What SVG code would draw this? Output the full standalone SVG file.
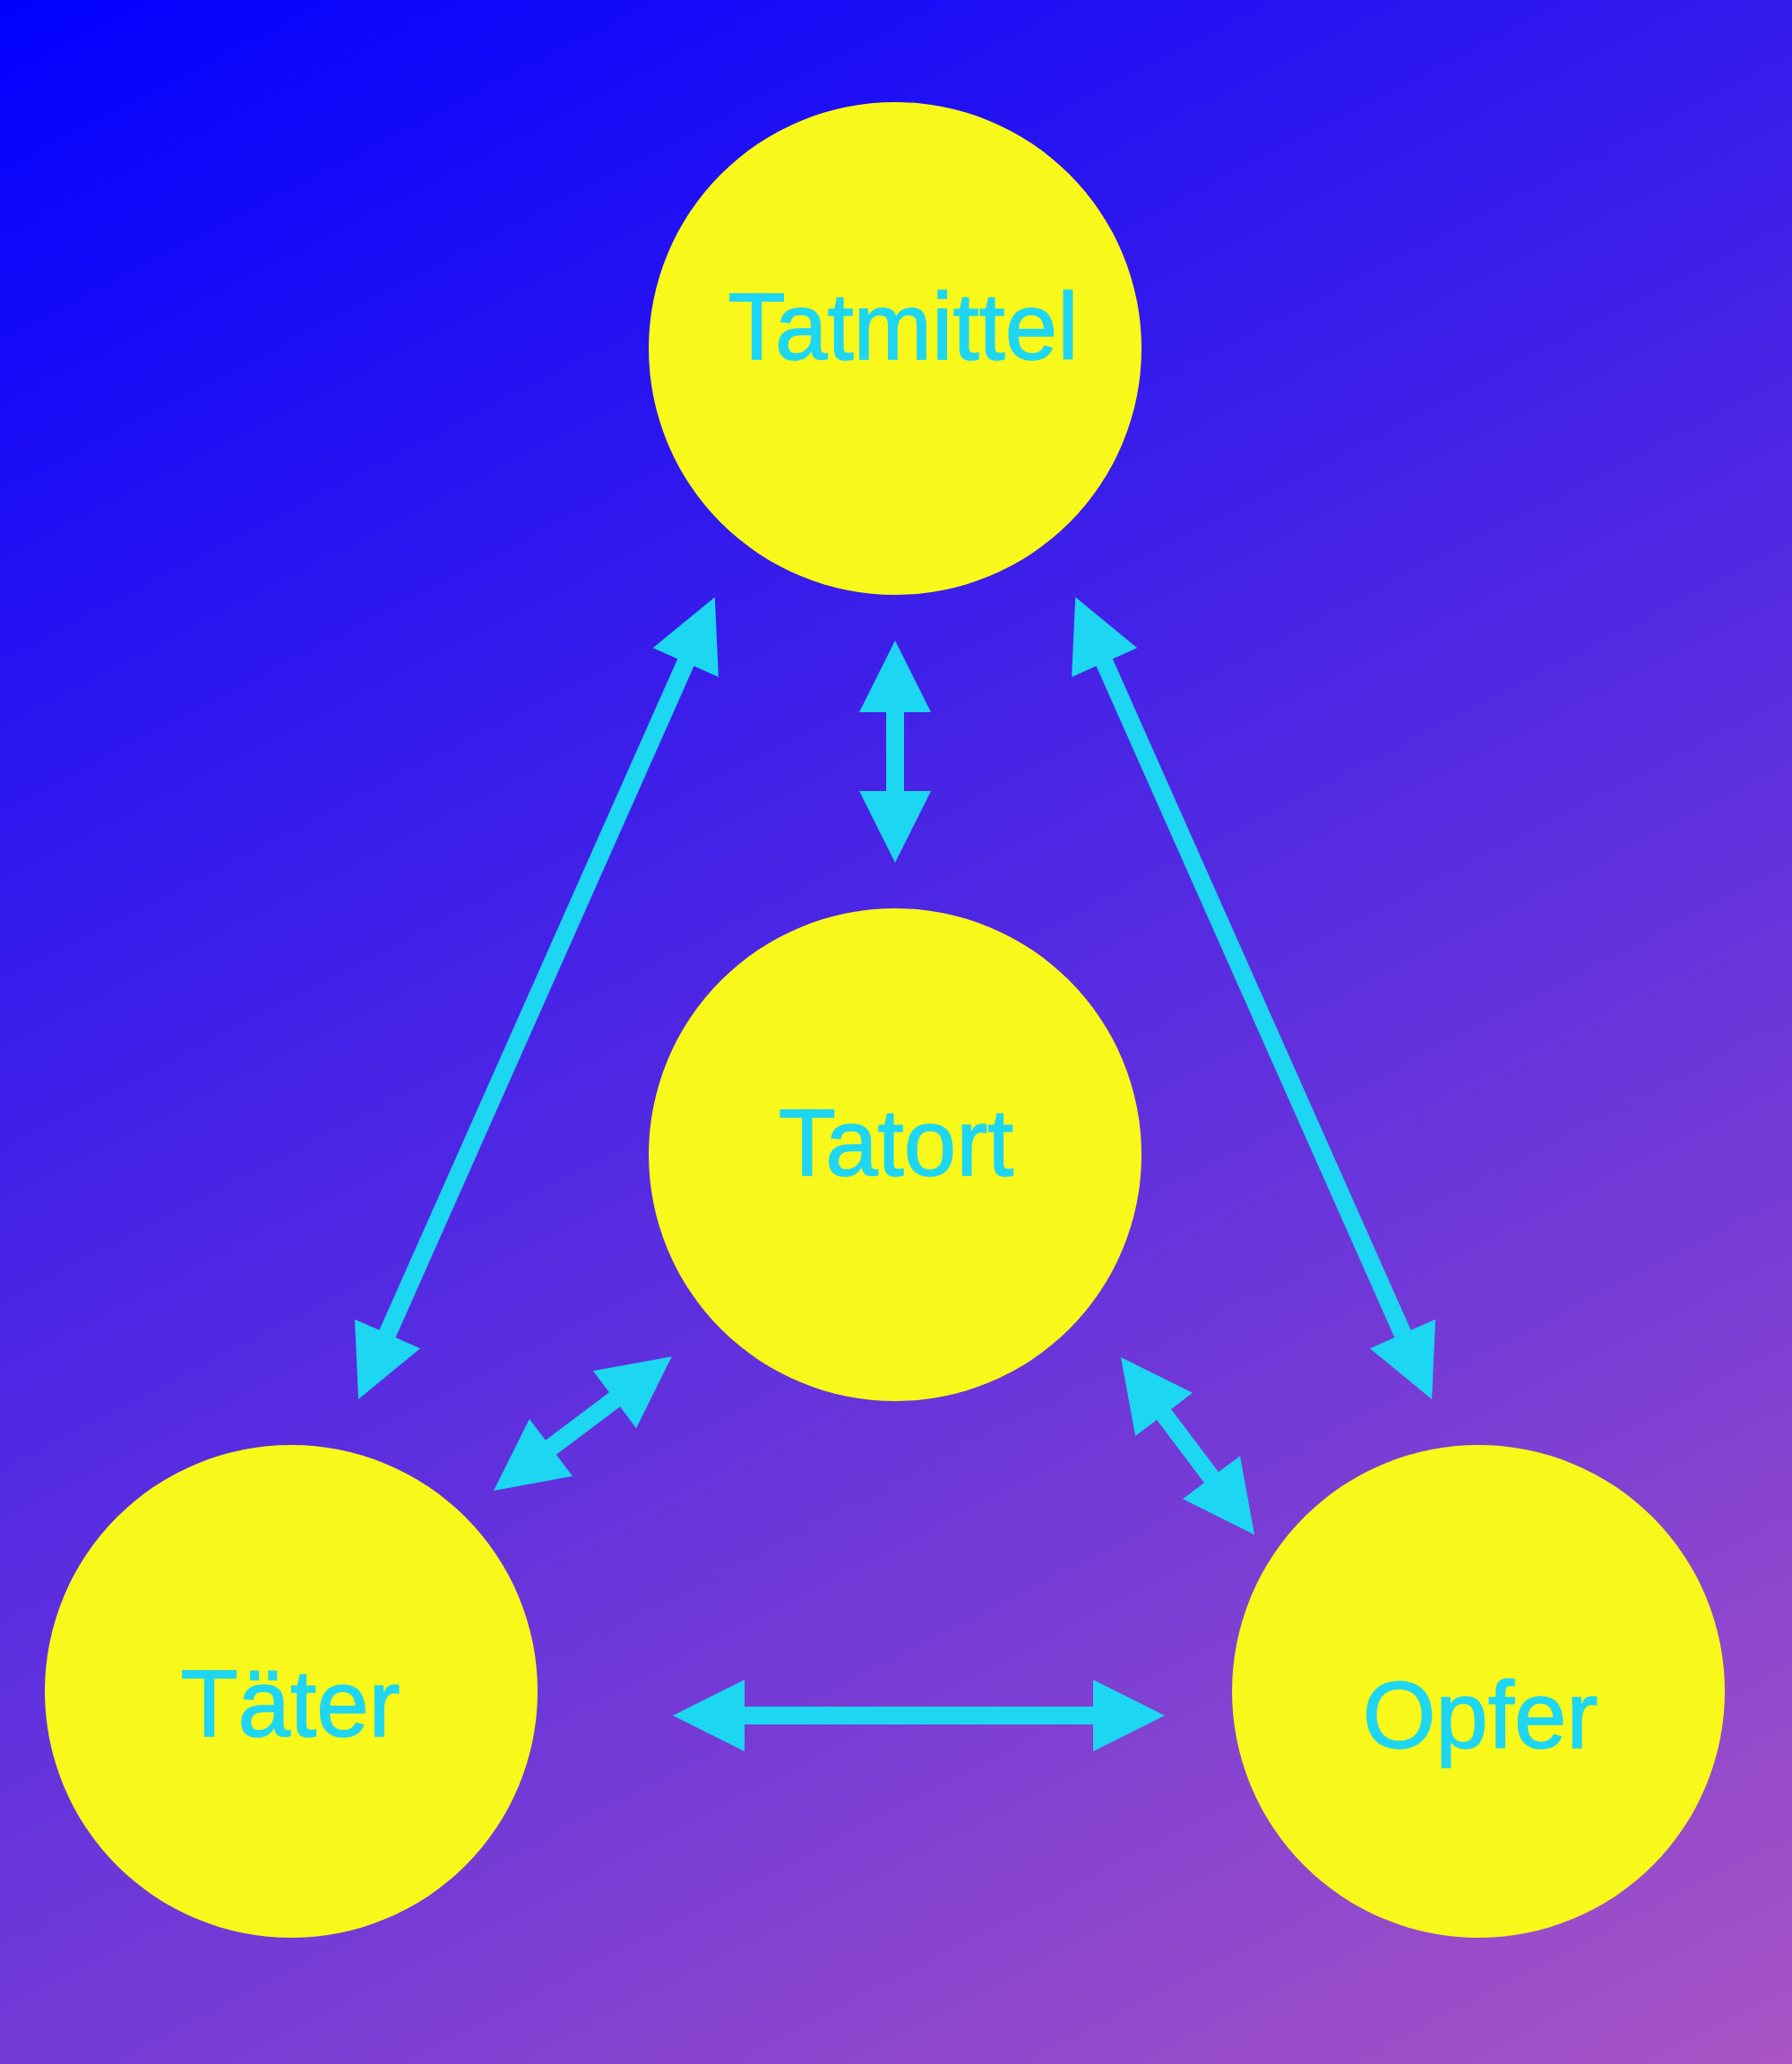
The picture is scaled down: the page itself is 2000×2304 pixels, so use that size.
<svg xmlns="http://www.w3.org/2000/svg" width="2000" height="2304" viewBox="0 0 2000 2304">
<defs>
<linearGradient id="bg" gradientUnits="userSpaceOnUse" x1="0" y1="0" x2="1364" y2="2634">
<stop offset="0" stop-color="#0000FF"/>
<stop offset="1" stop-color="#A854C4"/>
</linearGradient>
</defs>
<style>
.node{fill:#F8F81A;}
.lbl{font-family:"Liberation Sans",Arial,sans-serif;font-size:105px;fill:#1ED6F2;stroke:#1ED6F2;stroke-width:1.5;text-anchor:middle;}
.arr{fill:#1CD6F2;}
</style>
<rect x="0" y="0" width="2000" height="2304" fill="url(#bg)"/>
<g id="connectors">
<polygon class="arr" transform="translate(999,715) rotate(90)" points="0,0 80,-40 80,-10 168,-10 168,-40 248,0 168,40 168,10 80,10 80,40"/>
<polygon class="arr" transform="translate(751,1915)" points="0,0 80,-40 80,-10 469,-10 469,-40 549,0 469,40 469,10 80,10 80,40"/>
<polygon class="arr" transform="translate(400,1562) rotate(-66.05)" points="0,0 80,-40 80,-10 900,-10 900,-40 980,0 900,40 900,10 80,10 80,40"/>
<polygon class="arr" transform="translate(1598,1562) rotate(-113.95)" points="0,0 80,-40 80,-10 900,-10 900,-40 980,0 900,40 900,10 80,10 80,40"/>
<polygon class="arr" transform="translate(551,1664) rotate(-37)" points="0,0 80,-40 80,-10 169,-10 169,-40 249,0 169,40 169,10 80,10 80,40"/>
<polygon class="arr" transform="translate(1251,1515) rotate(53.04)" points="0,0 80,-40 80,-10 168,-10 168,-40 248,0 168,40 168,10 80,10 80,40"/>
</g>
<g id="tatmittel">
<circle class="node" cx="999" cy="389" r="275"/>
<text class="lbl" x="1008" y="401">Tatmittel</text>
</g>
<g id="tatort">
<circle class="node" cx="999" cy="1289" r="275"/>
<text class="lbl" x="1000" y="1312">Tatort</text>
</g>
<g id="taeter">
<circle class="node" cx="325" cy="1888" r="275"/>
<text class="lbl" x="324" y="1938">Täter</text>
</g>
<g id="opfer">
<circle class="node" cx="1650" cy="1888" r="275"/>
<text class="lbl" x="1652" y="1951">Opfer</text>
</g>
</svg>
